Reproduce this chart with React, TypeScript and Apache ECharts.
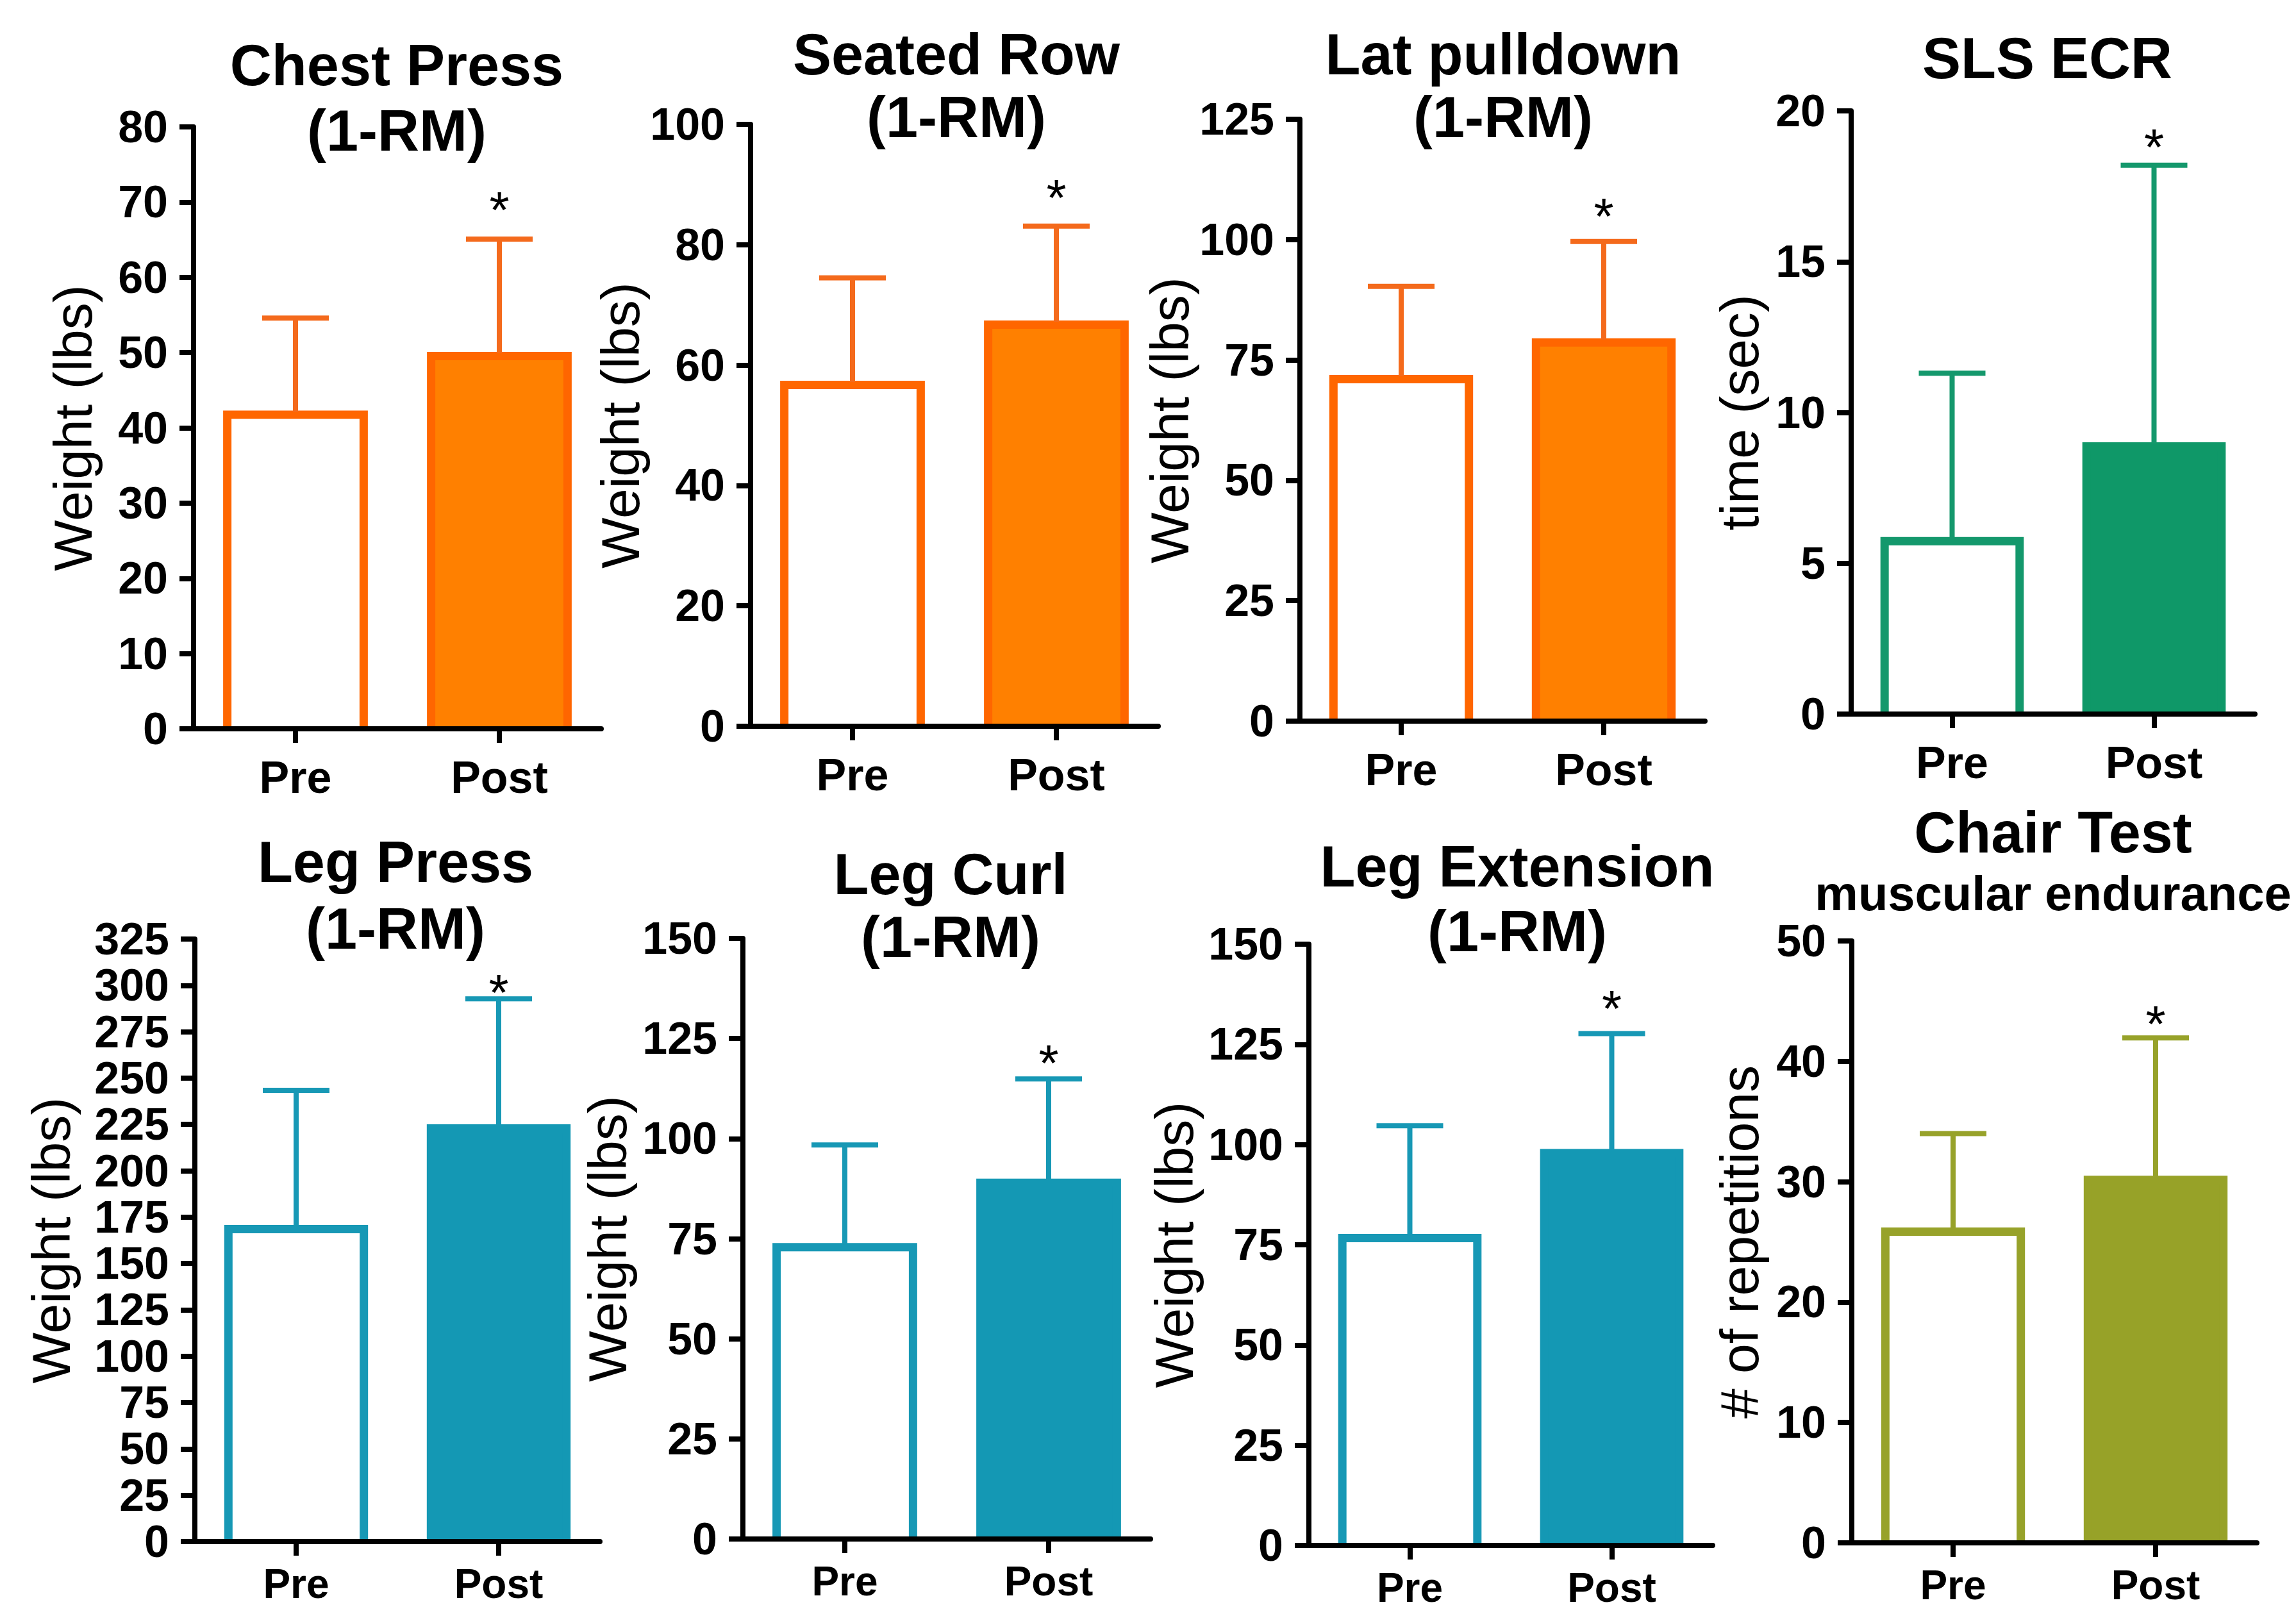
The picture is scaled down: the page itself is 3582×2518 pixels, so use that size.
import React, { useEffect, useRef } from 'react';
import * as echarts from 'echarts';

// ---------- data ----------
const categories = ['Pre', 'Post'];
const starMarks = ['', '*'];

const chestPressMean = [42.3, 50.1];
const chestPressSD = [12.3, 15.0];
const seatedRowMean = [57.4, 67.4];
const seatedRowSD = [17.1, 15.7];
const latPulldownMean = [71.9, 79.5];
const latPulldownSD = [18.4, 20.1];
const slsEcrMean = [5.87, 9.01];
const slsEcrSD = [5.43, 9.19];
const legPressMean = [170.8, 225.1];
const legPressSD = [72.6, 67.7];
const legCurlMean = [73.9, 90.0];
const legCurlSD = [24.5, 24.9];
const legExtensionMean = [77.7, 98.9];
const legExtensionSD = [27.0, 28.8];
const chairTestMean = [26.2, 30.5];
const chairTestSD = [7.8, 11.45];

const yMaxes = [80, 100, 125, 20, 325, 150, 150, 50];
const yIntervals = [10, 20, 25, 5, 25, 25, 25, 10];
const yNames = ['Weight (lbs)', 'Weight (lbs)', 'Weight (lbs)', 'time (sec)', 'Weight (lbs)', 'Weight (lbs)', 'Weight (lbs)', '# of repetitions'];
const titleLines = [
  ['Chest Press', '(1-RM)'],
  ['Seated Row', '(1-RM)'],
  ['Lat pulldown', '(1-RM)'],
  ['SLS ECR'],
  ['Leg Press', '(1-RM)'],
  ['Leg Curl', '(1-RM)'],
  ['Leg Extension', '(1-RM)'],
  ['Chair Test', 'muscular endurance'],
];
const means = [chestPressMean, seatedRowMean, latPulldownMean, slsEcrMean, legPressMean, legCurlMean, legExtensionMean, chairTestMean];
const sds = [chestPressSD, seatedRowSD, latPulldownSD, slsEcrSD, legPressSD, legCurlSD, legExtensionSD, chairTestSD];

// ---------- styles / layout ----------
const ORANGE = { border: '#FF6600', fill: '#FF8000', post: '#FF6600', err: '#F46A1C' };
const TEAL = { border: '#1798B5', fill: '#1498B4', post: '#1498B4', err: '#1798B5' };
const GREEN = { border: '#14986C', fill: '#0F9868', post: '#0F9868', err: '#14986C' };
const OLIVE = { border: '#97A22A', fill: '#97A228', post: '#97A228', err: '#97A22A' };
const panelColors = [ORANGE, ORANGE, ORANGE, GREEN, TEAL, TEAL, TEAL, OLIVE];

const BAR_FRACTION = 0.71;
const BORDER = 13;

// grid: left, top, width, height
const grids = [
  [302, 198, 636, 939],
  [1171, 194, 636, 939],
  [2028, 186, 632, 939],
  [2888, 173, 630, 941],
  [304, 1465, 632, 940],
  [1159, 1464, 636, 937],
  [2042, 1473, 630, 938],
  [2889, 1468, 632, 939],
];
const yNameCenters = [114, 987, 1850, 2714, 80, 948, 1832, 2714];
const titleX = [619, 1492, 2345, 3194, 617, 1483, 2367, 3203];
const titleY = [[102, 204], [85, 183], [85, 183], [91], [1345, 1449], [1364, 1462], [1352, 1453], [1299, 1393]];
const titleSizes = [[90, 90], [90, 90], [90, 90], [90], [90, 90], [90, 90], [90, 90], [90, 76]];
const starGaps = [63, 62, 57, 46, 28, 43, 57, 40];
// x-axis label font size and label centre distance below the axis, top row / bottom row
const xLabelSize = [70, 64];
const xLabelOffset = [76, 66];

const FONT = '"Liberation Sans", Arial, Helvetica, sans-serif';

function buildOption() {
  const grid: any[] = [];
  const xAxis: any[] = [];
  const yAxis: any[] = [];
  const series: any[] = [];
  const graphic: any[] = [];

  grids.forEach((g, i) => {
    const c = panelColors[i];
    const row = i < 4 ? 0 : 1;
    grid.push({ left: g[0], top: g[1], width: g[2], height: g[3], containLabel: false });
    xAxis.push({
      type: 'category',
      gridIndex: i,
      data: categories,
      z: 5,
      axisLine: { show: true, lineStyle: { color: '#000', width: 8 } },
      axisTick: { show: true, alignWithLabel: true, length: 22, lineStyle: { color: '#000', width: 8 } },
      axisLabel: {
        color: '#000',
        fontSize: xLabelSize[row],
        fontWeight: 'bold',
        fontFamily: FONT,
        lineHeight: 50,
        margin: xLabelOffset[row] - 25,
      },
      splitLine: { show: false },
    });
    yAxis.push({
      type: 'value',
      gridIndex: i,
      min: 0,
      max: yMaxes[i],
      interval: yIntervals[i],
      z: 5,
      axisLine: { show: true, lineStyle: { color: '#000', width: 8 } },
      axisTick: { show: true, length: 22, lineStyle: { color: '#000', width: 8 } },
      axisLabel: { color: '#000', fontSize: 70, fontWeight: 'bold', fontFamily: FONT, margin: 40 },
      splitLine: { show: false },
      name: yNames[i],
      nameLocation: 'middle',
      nameGap: g[0] - yNameCenters[i] - 42,
      nameTextStyle: { color: '#000', fontSize: 84, fontWeight: 'normal', fontFamily: FONT },
    });
    // outer bar (border colour), inner fill drawn by the custom series below
    series.push({
      type: 'bar',
      xAxisIndex: i,
      yAxisIndex: i,
      barWidth: Math.round(BAR_FRACTION * 100) + '%',
      z: 2,
      data: means[i].map((v, j) => ({
        value: v,
        itemStyle: { color: j === 0 ? c.border : c.post },
      })),
    });
    const gap = starGaps[i];
    series.push({
      type: 'custom',
      xAxisIndex: i,
      yAxisIndex: i,
      z: 3,
      data: means[i].map((m, j) => [j, m, m + sds[i][j]]),
      renderItem: (params: any, api: any) => {
        const x = api.value(0);
        const m = api.value(1);
        const t = api.value(2);
        const p0 = api.coord([x, m]);
        const p1 = api.coord([x, t]);
        const base = api.coord([x, 0]);
        const band = api.size([1, 0])[0];
        const outerW = band * BAR_FRACTION;
        const j = params.dataIndex;
        const innerFill = j === 0 ? '#FFFFFF' : c.fill;
        const children: any[] = [
          {
            type: 'rect',
            shape: {
              x: p0[0] - outerW / 2 + BORDER,
              y: p0[1] + BORDER,
              width: outerW - 2 * BORDER,
              height: Math.max(0, base[1] - p0[1] - BORDER),
            },
            style: { fill: innerFill },
          },
          { type: 'line', shape: { x1: p0[0], y1: p0[1] + 2, x2: p1[0], y2: p1[1] }, style: { stroke: c.err, lineWidth: 8 } },
          { type: 'line', shape: { x1: p1[0] - 52, y1: p1[1], x2: p1[0] + 52, y2: p1[1] }, style: { stroke: c.err, lineWidth: 8 } },
        ];
        const mark = starMarks[j];
        if (mark) {
          children.push({
            type: 'text',
            x: p1[0],
            y: p1[1] - gap + 18,
            style: { text: mark, fill: '#000', fontSize: 80, fontFamily: FONT, align: 'center', verticalAlign: 'middle' },
          });
        }
        return { type: 'group', children };
      },
    });
    titleLines[i].forEach((line, k) => {
      graphic.push({
        type: 'text',
        x: titleX[i],
        y: titleY[i][k],
        style: {
          text: line,
          fill: '#000',
          fontSize: titleSizes[i][k],
          fontWeight: 'bold',
          fontFamily: FONT,
          align: 'center',
          verticalAlign: 'middle',
        },
      });
    });
  });

  return {
    animation: false,
    backgroundColor: '#FFFFFF',
    textStyle: { fontFamily: FONT },
    grid,
    xAxis,
    yAxis,
    series,
    graphic,
  };
}

export default function App() {
  const ref = useRef<HTMLDivElement>(null);
  useEffect(() => {
    if (!ref.current) return;
    const chart = echarts.init(ref.current, undefined, { renderer: 'svg' });
    chart.setOption(buildOption() as any);
    return () => chart.dispose();
  }, []);
  return (
    <div
      ref={ref}
      style={{ position: 'absolute', left: 0, top: 0, width: 3582, height: 2518, background: '#fff' }}
    />
  );
}
